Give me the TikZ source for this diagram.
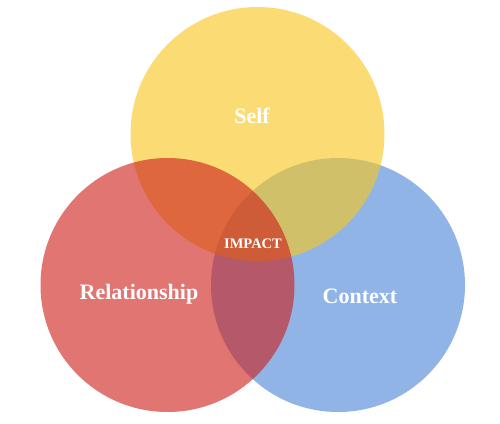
\documentclass[tikz,border=0pt]{standalone}
\usepackage{fontspec}
\setmainfont{Liberation Serif}
\usepackage{xcolor}
\usepackage{tikz}
\definecolor{selfyellow}{RGB}{249,199,31}
\definecolor{relred}{RGB}{205,32,28}
\definecolor{ctxblue}{RGB}{76,134,215}

\begin{document}
\begin{tikzpicture}[x=1pt, y=-1pt,
  disc/.style={fill opacity=0.62},
  lbl/.style={text=white, font=\fontsize{22}{24}\selectfont\bfseries, inner sep=0pt}]
\useasboundingbox (0,0) rectangle (500,423);
% ================= three circles =================
\fill[disc, ctxblue]    (338,285)   circle (127);
\fill[disc, selfyellow] (257.5,134) circle (127);
\fill[disc, relred]     (167.5,285) circle (127);
% ================= labels =================
\node[lbl] (self) at (252,116) {Self};
\node[lbl] (relationship) at (139,294) {Relationship};
\node[lbl] (context) at (360,296) {Context};
\node[lbl, font=\fontsize{14.5}{16}\selectfont\bfseries] (impact) at (253,244) {IMPACT};
\end{tikzpicture}
\end{document}
